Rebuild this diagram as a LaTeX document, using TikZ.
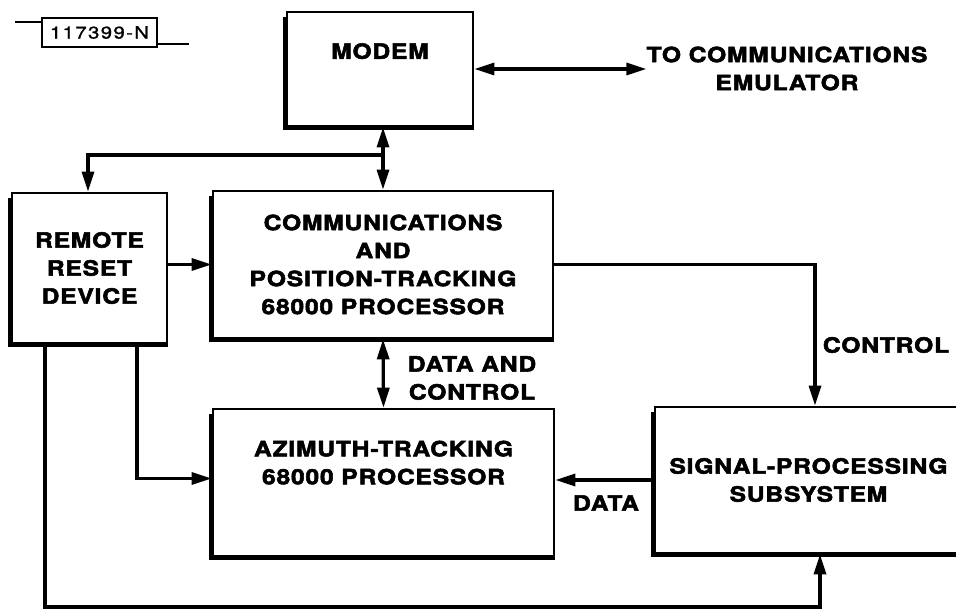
\documentclass[tikz,border=0pt]{standalone}
\usepackage{fontspec}
\usetikzlibrary{arrows.meta,calc}
\newfontfamily\blockfont{TeX Gyre Heros}[FakeStretch=1.17,LetterSpace=4,FakeBold=2.6]
\newfontfamily\tagfont{TeX Gyre Heros}[FakeStretch=1.2,LetterSpace=8,FakeBold=1.2]
\tikzset{
  blk/.style={draw, line width=2.6pt, inner sep=0pt, align=center,
    font=\blockfont\bfseries\fontsize{21}{28}\selectfont},
  lbl/.style={inner sep=0pt, align=center,
    font=\blockfont\bfseries\fontsize{21}{28}\selectfont},
  wire/.style={line width=3.2pt, line join=miter},
  tip/.style={-{Triangle[length=20pt,width=12pt]}},
  bitip/.style={{Triangle[length=20pt,width=12pt]}-{Triangle[length=20pt,width=12pt]}},
  heavy/.style={line width=5.5pt, line join=miter}
}
\begin{document}
\begin{tikzpicture}[x=1pt,y=-1pt]
\useasboundingbox (0,0) rectangle (956,610);
\fill[white] (0,0) rectangle (956,610);

% drawing number tag
\node[draw, line width=1.8pt, minimum width=115pt, minimum height=29pt, inner sep=0pt,
      font=\tagfont\fontsize{17}{20}\selectfont] (tag) at (99.5,32.5) {117399-N};
\draw[line width=1.8pt] ([yshift=-5pt]tag.north west) -- ++(-26,0);
\draw[line width=1.8pt] ([yshift=4pt]tag.south east) -- ++(31,0);

% blocks
\node[blk, minimum width=186pt, minimum height=114pt] (modem) at (380,69) {MODEM\\[8pt]};
\node[blk, minimum width=155pt, minimum height=150pt] (remote) at (89.5,268) {REMOTE\\RESET\\DEVICE};
\node[blk, minimum width=340pt, minimum height=147pt] (comm) at (383,264.5)
  {COMMUNICATIONS\\AND\\POSITION-TRACKING\\68000 PROCESSOR};
\node[blk, minimum width=341pt, minimum height=147pt] (az) at (383.5,482.5)
  {AZIMUTH-TRACKING\\68000 PROCESSOR\\[12pt]};
\node[blk, minimum width=307pt, minimum height=146pt] (sig) at (808.5,480)
  {SIGNAL-PROCESSING\\SUBSYSTEM};

% heavy left and bottom edges
\foreach \n in {modem,remote,comm,az,sig}
  \draw[heavy] ([yshift=-6pt]\n.north west) -- (\n.south west) -- (\n.south east);

% labels
\node[lbl] (emu) at (787,68.5) {TO COMMUNICATIONS\\EMULATOR};
\node[lbl] (dc) at (472,378) {DATA AND\\CONTROL};
\node[lbl] (ctl) at (886,345) {CONTROL};
\node[lbl] (dat) at (606,503) {DATA};

% connectors
\coordinate (bus) at (383,155);
\coordinate (low) at (45,607);
\draw[wire,bitip] (modem.east) -- (modem.east -| emu.west);
\draw[wire,bitip] (comm.north |- modem.south) -- (comm.north);
\draw[wire,tip] (bus) -| (remote.north -| 88,0);
\draw[wire,tip] (remote.east |- comm.west) -- (comm.west);
\draw[wire,tip] (comm.east) -| ([xshift=6.5pt]sig.north);
\draw[wire,bitip] (comm.south) -- (az.north);
\draw[wire,tip] (sig.west) -- (sig.west -| az.east);
\draw[wire,tip] (remote.south -| 137,0) |- ([yshift=4pt]az.west);
\draw[wire,tip] (remote.south -| low) -- (low) -| ([xshift=11.5pt]sig.south);
\end{tikzpicture}
\end{document}
